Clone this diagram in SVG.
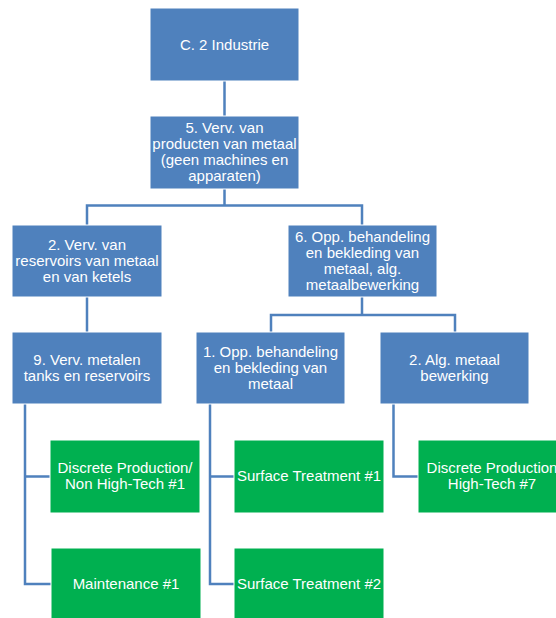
<svg xmlns="http://www.w3.org/2000/svg" width="556" height="618" viewBox="0 0 556 618">
  <style>
    .blue { fill: #4F81BD; stroke: #FFFFFF; stroke-width: 1; }
    .green { fill: #00B050; stroke: #FFFFFF; stroke-width: 1; }
    .label { font-family: "Liberation Sans", Arial, sans-serif; font-size: 15px; fill: #FFFFFF; text-anchor: middle; }
    .link { fill: none; stroke: #4F81BD; stroke-width: 2.5; }
  </style>
  <rect width="556" height="618" fill="#FFFFFF"/>

  <!-- connectors -->
  <g id="connectors">
    <path class="link" d="M224.5 81 V116"/>
    <path class="link" d="M224.5 189 V205.5 M87 225 V205.5 H362 V225"/>
    <path class="link" d="M87 297 V332"/>
    <path class="link" d="M362 297 V315 M271 332 V315 H455 V332"/>
    <path class="link" d="M25 404 V584 H51 M25 476.5 H50"/>
    <path class="link" d="M210 404 V584 H234 M210 476.5 H234"/>
    <path class="link" d="M393.5 404 V476.5 H418"/>
  </g>

  <!-- level 0 -->
  <g id="n-industrie">
    <rect class="blue" x="150" y="8" width="149" height="73"/>
    <text class="label" x="224.5" y="49.5">C. 2 Industrie</text>
  </g>

  <!-- level 1 -->
  <g id="n-producten">
    <rect class="blue" x="150" y="116" width="149" height="73"/>
    <text class="label" x="224.5" y="133">5. Verv. van</text>
    <text class="label" x="224.5" y="149">producten van metaal</text>
    <text class="label" x="224.5" y="165">(geen machines en</text>
    <text class="label" x="224.5" y="181">apparaten)</text>
  </g>

  <!-- level 2 -->
  <g id="n-reservoirs">
    <rect class="blue" x="12" y="225" width="150" height="72"/>
    <text class="label" x="87" y="250">2. Verv. van</text>
    <text class="label" x="87" y="266">reservoirs van metaal</text>
    <text class="label" x="87" y="282">en van ketels</text>
  </g>
  <g id="n-opp-alg">
    <rect class="blue" x="288" y="225" width="149" height="72"/>
    <text class="label" x="362.5" y="242">6. Opp. behandeling</text>
    <text class="label" x="362.5" y="258">en bekleding van</text>
    <text class="label" x="362.5" y="274">metaal, alg.</text>
    <text class="label" x="362.5" y="290">metaalbewerking</text>
  </g>

  <!-- level 3 -->
  <g id="n-tanks">
    <rect class="blue" x="12" y="332" width="150" height="72"/>
    <text class="label" x="87" y="365">9. Verv. metalen</text>
    <text class="label" x="87" y="381">tanks en reservoirs</text>
  </g>
  <g id="n-opp">
    <rect class="blue" x="196" y="332" width="149" height="72"/>
    <text class="label" x="270.5" y="357">1. Opp. behandeling</text>
    <text class="label" x="270.5" y="373">en bekleding van</text>
    <text class="label" x="270.5" y="389">metaal</text>
  </g>
  <g id="n-alg">
    <rect class="blue" x="380" y="332" width="149" height="72"/>
    <text class="label" x="454.5" y="365">2. Alg. metaal</text>
    <text class="label" x="454.5" y="381">bewerking</text>
  </g>

  <!-- level 4 -->
  <g id="n-discrete-non-ht">
    <rect class="green" x="50" y="440" width="150" height="73"/>
    <text class="label" x="125" y="473">Discrete Production/</text>
    <text class="label" x="125" y="489">Non High-Tech #1</text>
  </g>
  <g id="n-maintenance">
    <rect class="green" x="51" y="548" width="150" height="73"/>
    <text class="label" x="126" y="589">Maintenance #1</text>
  </g>
  <g id="n-surface-1">
    <rect class="green" x="234" y="440" width="150" height="73"/>
    <text class="label" x="309" y="481">Surface Treatment #1</text>
  </g>
  <g id="n-surface-2">
    <rect class="green" x="234" y="548" width="150" height="73"/>
    <text class="label" x="309" y="589">Surface Treatment #2</text>
  </g>
  <g id="n-discrete-ht">
    <rect class="green" x="418" y="440" width="150" height="73"/>
    <text class="label" x="492" y="473">Discrete Production</text>
    <text class="label" x="492" y="489">High-Tech #7</text>
  </g>
</svg>
